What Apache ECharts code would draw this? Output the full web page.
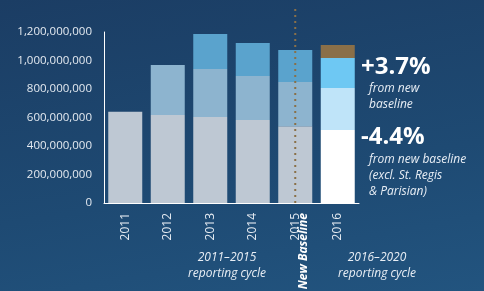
<!DOCTYPE html>
<html>
<head>
<meta charset="utf-8">
<script src="https://cdn.jsdelivr.net/npm/echarts@6/dist/echarts.min.js"></script>
<style>
  html, body { margin: 0; padding: 0; }
  body { background: linear-gradient(170deg, #1b3d64 0%, #1e4a73 60%, #22547f 100%); }
  #chart { width: 484px; height: 291px; }
</style>
</head>
<body>
<div id="chart"></div>
<script>
// stacked levels (cumulative top of each segment)
const years = ['2011', '2012', '2013', '2014', '2015', '2016'];
const baseLevel = [640e6, 617e6, 604e6, 582e6, 538e6, 512e6];
const midLevel = [null, 968e6, 940e6, 891e6, 849e6, 807e6];
const topLevel = [null, null, 1186e6, 1123e6, 1074e6, 1018e6];
const extraLevel = [null, null, null, null, null, 1109e6];
const yTicks = { min: 0, max: 1200e6, interval: 200e6 };
const baselineYear = '2015';
const baselineTop = 1370e6;

const oldColors = ['#bec8d3', '#8db4cf', '#5aa3cd'];
const newColors = ['#ffffff', '#bfe4f9', '#6ec8f3', '#8a6f48'];

const font = '"Open Sans", "Noto Sans", sans-serif';

// turn cumulative levels into segment heights
function segment(levels, below, colorIdx) {
  return levels.map((v, i) => {
    if (v == null) return '-';
    const prev = below[i] == null ? 0 : below[i];
    const isNew = i === years.length - 1;
    return {
      value: v - prev,
      itemStyle: { color: isNew ? newColors[colorIdx] : oldColors[colorIdx] }
    };
  });
}

const baseSeg = segment(baseLevel, [], 0);
const midSeg = segment(midLevel, baseLevel, 1);
const topSeg = segment(topLevel, midLevel, 2);
const extraSeg = segment(extraLevel, topLevel, 3);

const chart = echarts.init(document.getElementById('chart'));

const makeSeries = (name, data) => ({
  name,
  type: 'bar',
  stack: 'total',
  barWidth: 34,
  data,
  silent: true
});

chart.setOption({
  animation: false,
  backgroundColor: 'transparent',
  grid: { left: 104, right: 125, top: 32, bottom: 88 },
  xAxis: {
    type: 'category',
    data: years,
    axisLine: { lineStyle: { color: '#ffffff', width: 1 } },
    axisTick: { show: false },
    axisLabel: {
      rotate: 90,
      margin: 10,
      color: '#e4eaf1',
      fontSize: 12,
      fontFamily: font
    }
  },
  yAxis: {
    type: 'value',
    min: yTicks.min,
    max: yTicks.max,
    interval: yTicks.interval,
    splitLine: { show: false },
    axisTick: { show: false },
    axisLine: { show: true, lineStyle: { color: '#ffffff', width: 1 } },
    axisLabel: {
      margin: 12,
      color: '#e4eaf1',
      fontSize: 11.5,
      fontFamily: font,
      formatter: v => v.toLocaleString('en-US')
    }
  },
  series: [
    makeSeries('base', baseSeg),
    makeSeries('mid', midSeg),
    makeSeries('top', topSeg),
    makeSeries('extra', extraSeg)
  ]
});

// dotted "new baseline" divider, placed through the axes
const p0 = chart.convertToPixel({ gridIndex: 0 }, [baselineYear, 0]);
const p1 = chart.convertToPixel({ gridIndex: 0 }, [baselineYear, baselineTop]);

const noteStyle = { fill: '#e8eef5', font: 'italic 12px ' + font };

chart.setOption({
  graphic: [
    {
      type: 'line',
      silent: true,
      shape: { x1: p0[0], y1: p0[1], x2: p1[0], y2: p1[1] },
      style: { stroke: '#8a7048', lineWidth: 2, lineDash: [2, 4] },
      z: 10
    },
    {
      type: 'text',
      x: p0[0] + 8,
      y: 213,
      rotation: Math.PI / 2,
      style: {
        text: 'New Baseline',
        fill: '#ffffff',
        font: 'italic bold 12px ' + font,
        align: 'right',
        verticalAlign: 'middle'
      }
    },
    {
      type: 'text', x: 227, y: 258,
      style: Object.assign({ text: '2011–2015', align: 'center', verticalAlign: 'middle' }, noteStyle)
    },
    {
      type: 'text', x: 227, y: 274,
      style: Object.assign({ text: 'reporting cycle', align: 'center', verticalAlign: 'middle' }, noteStyle)
    },
    {
      type: 'text', x: 377, y: 258,
      style: Object.assign({ text: '2016–2020', align: 'center', verticalAlign: 'middle' }, noteStyle)
    },
    {
      type: 'text', x: 377, y: 274,
      style: Object.assign({ text: 'reporting cycle', align: 'center', verticalAlign: 'middle' }, noteStyle)
    },
    {
      type: 'text', x: 361, y: 67,
      style: { text: '+3.7%', fill: '#ffffff', font: 'bold 24px ' + font, verticalAlign: 'middle' }
    },
    {
      type: 'text', x: 369, y: 89,
      style: Object.assign({ text: 'from new', verticalAlign: 'middle' }, noteStyle)
    },
    {
      type: 'text', x: 369, y: 105,
      style: Object.assign({ text: 'baseline', verticalAlign: 'middle' }, noteStyle)
    },
    {
      type: 'text', x: 361, y: 137,
      style: { text: '-4.4%', fill: '#ffffff', font: 'bold 24px ' + font, verticalAlign: 'middle' }
    },
    {
      type: 'text', x: 369, y: 160,
      style: Object.assign({ text: 'from new baseline', verticalAlign: 'middle' }, noteStyle)
    },
    {
      type: 'text', x: 369, y: 176,
      style: Object.assign({ text: '(excl. St. Regis', verticalAlign: 'middle' }, noteStyle)
    },
    {
      type: 'text', x: 369, y: 192,
      style: Object.assign({ text: '& Parisian)', verticalAlign: 'middle' }, noteStyle)
    }
  ]
});
</script>
</body>
</html>
